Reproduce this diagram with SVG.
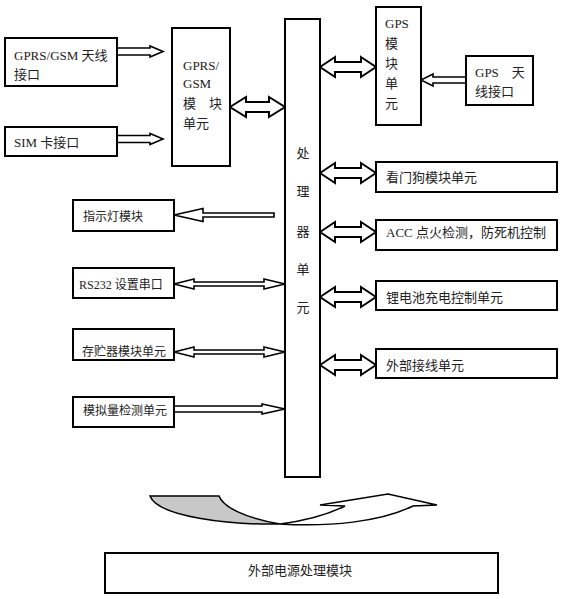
<svg xmlns="http://www.w3.org/2000/svg" width="566" height="599" viewBox="0 0 566 599">
<style>
.box{fill:#fff;stroke:#000;stroke-width:2}
.arr{fill:#fff;stroke:#000;stroke-width:2;stroke-linejoin:miter}
.thin{fill:#fff;stroke:#000;stroke-width:1.6}
text{font-family:"Liberation Serif","Noto Sans CJK SC",serif;font-size:13px;fill:#222}
.s{font-size:12px}
</style>
<rect width="566" height="599" fill="#fff"/>
<g id="connectors">
<path class="thin" d="M117,48 L150,48 L150,46 L163,51.5 L150,57 L150,55 L117,55 Z"/>
<path class="thin" d="M117,135.5 L150,135.5 L150,133.5 L163,139 L150,144.5 L150,142.5 L117,142.5 Z"/>
<path class="arr" d="M230,107 L246,97 L246,102 L269,102 L269,97 L285,107 L269,117 L269,112 L246,112 L246,117 Z"/>
<path class="arr" d="M320,67 L335,57 L335,62 L361,62 L361,57 L376,67 L361,77 L361,72 L335,72 L335,77 Z"/>
<path class="thin" d="M466,77 L433,77 L433,74 L421,80 L433,86 L433,83 L466,83 Z"/>
<path class="arr" d="M320,173 L335,163 L335,168 L361,168 L361,163 L376,173 L361,183 L361,178 L335,178 L335,183 Z"/>
<path class="arr" d="M320,232 L335,222 L335,227 L361,227 L361,222 L376,232 L361,242 L361,237 L335,237 L335,242 Z"/>
<path class="arr" d="M320,297 L335,287 L335,292 L361,292 L361,287 L376,297 L361,307 L361,302 L335,302 L335,307 Z"/>
<path class="arr" d="M320,365 L335,355 L335,360 L361,360 L361,355 L376,365 L361,375 L361,370 L335,370 L335,375 Z"/>
<path class="thin" d="M274,213 L203,213 L203,208.5 L174,215 L203,221.5 L203,217 L274,217 Z"/>
<path class="thin" d="M174,284 L194,279 L194,282 L264,282 L264,279 L285,284 L264,289 L264,286 L194,286 L194,289 Z"/>
<path class="thin" d="M174,352 L194,347 L194,350 L264,350 L264,347 L285,352 L264,357 L264,354 L194,354 L194,357 Z"/>
<path class="thin" d="M174,406 L262,406 L262,404 L285,409 L262,414 L262,412 L174,412 Z"/>
<path d="M150,496 L219,496 C223,507 245,518 280,524 C230,525 158,517 150,496 Z" fill="#c8c8c8" stroke="#000" stroke-width="1.5"/>
<path d="M280,524 C330,527 380,522 413,506 L437,505 L388,494 L320,505 L345,506 C325,516 303,521 280,524 Z" fill="#fff" stroke="#000" stroke-width="1.5"/>
</g>
<g id="gprs-antenna">
<rect class="box" x="5" y="38" width="112" height="48"/>
<text x="14" y="60">GPRS/GSM 天线</text>
<text x="14" y="79">接口</text>
</g>
<g id="sim">
<rect class="box" x="5" y="127" width="112" height="29"/>
<text x="14" y="147">SIM 卡接口</text>
</g>
<g id="gprs-module">
<rect class="box" x="172" y="28" width="58" height="138"/>
<text x="183" y="70">GPRS/</text>
<text x="183" y="88">GSM</text>
<text x="183" y="108">模　块</text>
<text x="183" y="128">单元</text>
</g>
<g id="processor">
<rect class="box" x="285" y="19" width="35" height="458"/>
<text x="303" y="158" text-anchor="middle">处</text>
<text x="303" y="196" text-anchor="middle">理</text>
<text x="303" y="236" text-anchor="middle">器</text>
<text x="303" y="274" text-anchor="middle">单</text>
<text x="303" y="312" text-anchor="middle">元</text>
</g>
<g id="gps-module">
<rect class="box" x="376" y="7" width="45" height="118"/>
<text x="385" y="28">GPS</text>
<text x="385" y="48">模</text>
<text x="385" y="68">块</text>
<text x="385" y="88">单</text>
<text x="385" y="108">元</text>
</g>
<g id="gps-antenna">
<rect class="box" x="466" y="56" width="67" height="49"/>
<text x="475" y="77">GPS　天</text>
<text x="475" y="96">线接口</text>
</g>
<g id="watchdog">
<rect class="box" x="376" y="162" width="181" height="30"/>
<text x="386" y="182">看门狗模块单元</text>
</g>
<g id="acc">
<rect class="box" x="376" y="220" width="181" height="30"/>
<text x="386" y="237">ACC 点火检测，防死机控制</text>
</g>
<g id="battery">
<rect class="box" x="376" y="281" width="181" height="29"/>
<text x="386" y="302">锂电池充电控制单元</text>
</g>
<g id="external">
<rect class="box" x="376" y="349" width="181" height="29"/>
<text x="386" y="370">外部接线单元</text>
</g>
<g id="indicator">
<rect class="box" x="73" y="200" width="101" height="31"/>
<text class="s" x="83" y="221">指示灯模块</text>
</g>
<g id="rs232">
<rect class="box" x="73" y="268" width="101" height="30"/>
<text class="s" x="79" y="289">RS232 设置串口</text>
</g>
<g id="storage">
<rect class="box" x="73" y="329" width="101" height="31"/>
<text class="s" x="82" y="356">存贮器模块单元</text>
</g>
<g id="analog">
<rect class="box" x="73" y="397" width="101" height="30"/>
<text class="s" x="83" y="415">模拟量检测单元</text>
</g>
<g id="power">
<rect class="box" x="105" y="553" width="393" height="40"/>
<text x="300" y="575" text-anchor="middle">外部电源处理模块</text>
</g>
</svg>
